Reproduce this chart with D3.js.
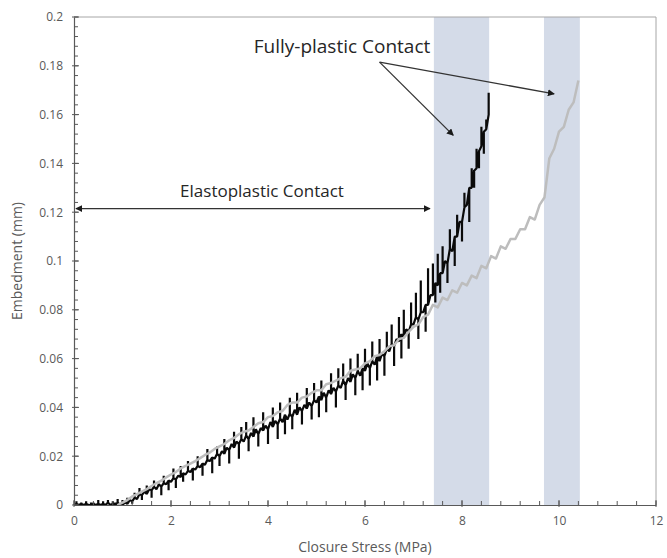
<!DOCTYPE html>
<html>
<head>
<meta charset="utf-8">
<script src="https://cdn.jsdelivr.net/npm/d3@7"></script>
<style>
  html, body { margin: 0; padding: 0; background: #fff; }
  svg { display: block; font-family: "Open Sans", "Noto Sans", sans-serif; }
</style>
</head>
<body>
<svg id="chart" width="667" height="558"></svg>
<script>
// Axis ticks
const xTicks = [0, 2, 4, 6, 8, 10, 12];
const yTicks = [0, 0.02, 0.04, 0.06, 0.08, 0.1, 0.12, 0.14, 0.16, 0.18, 0.2];

// Fully-plastic bands (closure stress, MPa)
const bandStarts = [7.42, 9.69];
const bandEnds = [8.56, 10.43];

// Black specimen, sampled every 0.05 MPa from 0:
// trace level (mm) and the extreme reached by the spike at that sample
const blackStep = 0.05;
const blackEmbed = [
  0, 0.0005, 0, 0.0005, 0, 0.0005, 0, 0, 0.0005, 0,
  0.0005, 0, 0.0005, 0, 0.001, 0, 0.0005, 0, 0.001, 0,
  0, 0.001, 0.0005, 0.002, 0.0015, 0.003, 0.0025, 0.0045, 0.004, 0.0055,
  0.0045, 0.0065, 0.006, 0.0075, 0.0065, 0.0085, 0.0075, 0.009, 0.0085, 0.010,
  0.0095, 0.011, 0.0105, 0.012, 0.0115, 0.013, 0.0125, 0.014, 0.0135, 0.015,
  0.0145, 0.016, 0.0155, 0.017, 0.0165, 0.0185, 0.018, 0.0195, 0.019, 0.021,
  0.020, 0.022, 0.021, 0.0235, 0.0225, 0.025, 0.0235, 0.026, 0.025, 0.027,
  0.026, 0.0285, 0.027, 0.0295, 0.028, 0.031, 0.029, 0.0315, 0.0305, 0.0325,
  0.031, 0.034, 0.032, 0.0345, 0.033, 0.0355, 0.034, 0.037, 0.035, 0.0375,
  0.036, 0.039, 0.037, 0.040, 0.0385, 0.041, 0.0395, 0.042, 0.0405, 0.043,
  0.042, 0.0445, 0.043, 0.046, 0.044, 0.047, 0.0455, 0.048, 0.0465, 0.049,
  0.048, 0.051, 0.049, 0.052, 0.0505, 0.0535, 0.052, 0.055, 0.053, 0.056,
  0.055, 0.058, 0.056, 0.059, 0.0575, 0.061, 0.059, 0.062, 0.061, 0.064,
  0.063, 0.066, 0.065, 0.068, 0.067, 0.070, 0.069, 0.072, 0.071, 0.074,
  0.074, 0.077, 0.076, 0.079, 0.079, 0.082, 0.082, 0.086, 0.086, 0.091,
  0.090, 0.095, 0.095, 0.100, 0.099, 0.105, 0.104, 0.110, 0.110, 0.116,
  0.116, 0.122, 0.123, 0.130, 0.130, 0.137, 0.138, 0.145, 0.147, 0.153,
  0.154, 0.160
];
const blackSpike = [
  0, 0.0015, 0, 0.001, 0, 0.0015, 0, 0.001, 0.001, 0,
  0.002, 0, 0.0015, 0, 0.002, 0, 0.0015, 0.001, 0.0025, 0,
  0.002, 0.001, 0.003, 0.002, 0.0005, 0.005, 0.0025, 0.007, 0.002, 0.0055,
  0.008, 0.0065, 0.003, 0.010, 0.0065, 0.0085, 0.004, 0.012, 0.0085, 0.006,
  0.0095, 0.015, 0.007, 0.012, 0.016, 0.0095, 0.0125, 0.018, 0.0135, 0.010,
  0.0145, 0.020, 0.0155, 0.012, 0.0165, 0.023, 0.018, 0.013, 0.019, 0.024,
  0.016, 0.022, 0.027, 0.0235, 0.017, 0.025, 0.030, 0.026, 0.019, 0.032,
  0.026, 0.034, 0.022, 0.0295, 0.036, 0.031, 0.024, 0.0315, 0.038, 0.0325,
  0.025, 0.034, 0.040, 0.0345, 0.027, 0.042, 0.034, 0.029, 0.035, 0.044,
  0.031, 0.039, 0.046, 0.040, 0.033, 0.041, 0.048, 0.042, 0.035, 0.050,
  0.042, 0.036, 0.051, 0.046, 0.038, 0.047, 0.054, 0.048, 0.040, 0.056,
  0.048, 0.058, 0.043, 0.052, 0.060, 0.0535, 0.045, 0.062, 0.053, 0.047,
  0.064, 0.058, 0.049, 0.067, 0.0575, 0.051, 0.068, 0.062, 0.053, 0.071,
  0.063, 0.074, 0.057, 0.068, 0.077, 0.060, 0.080, 0.072, 0.064, 0.083,
  0.074, 0.087, 0.068, 0.092, 0.079, 0.071, 0.097, 0.086, 0.099, 0.083,
  0.103, 0.087, 0.106, 0.100, 0.091, 0.113, 0.104, 0.098, 0.119, 0.116,
  0.108, 0.128, 0.123, 0.116, 0.138, 0.130, 0.146, 0.138, 0.155, 0.144,
  0.158, 0.169
];

// Grey specimen: embedment (mm) sampled every 0.1 MPa from 0.9
const greyStart = 0.9;
const greyStep = 0.1;
const greyEmbed = [
  0.000, 0.001, 0.002, 0.0035, 0.0045, 0.0055, 0.0065, 0.0078, 0.009, 0.010,
  0.0113, 0.0125, 0.0135, 0.015, 0.016, 0.017, 0.018, 0.0192, 0.0205, 0.0215,
  0.023, 0.024, 0.025, 0.0265, 0.0275, 0.029, 0.030, 0.0305, 0.032, 0.0335,
  0.034, 0.036, 0.0365, 0.038, 0.0385, 0.041, 0.042, 0.042, 0.044, 0.0445,
  0.046, 0.047, 0.047, 0.0495, 0.050, 0.051, 0.052, 0.0525, 0.055, 0.0555,
  0.056, 0.058, 0.059, 0.061, 0.0615, 0.063, 0.065, 0.0655, 0.068, 0.0685,
  0.071, 0.073, 0.074, 0.077, 0.078, 0.082, 0.081, 0.085, 0.084, 0.088,
  0.087, 0.091, 0.090, 0.094, 0.093, 0.098, 0.097, 0.102, 0.101, 0.106,
  0.105, 0.109, 0.109, 0.113, 0.113, 0.118, 0.117, 0.123, 0.126, 0.142,
  0.146, 0.153, 0.155, 0.162, 0.165, 0.174
];

const svg = d3.select("#chart");
const margin = { left: 74, right: 11, top: 17, bottom: 53 };
const W = 667, H = 558;

const x = d3.scaleLinear().domain([0, 12]).range([margin.left, W - margin.right]);
const y = d3.scaleLinear().domain([0, 0.2]).range([H - margin.bottom, margin.top]);

const axisColor = "#595959";
const labelColor = "#595959";

// shaded fully-plastic regions
svg.append("g").selectAll("rect")
  .data(bandStarts.map((s, i) => [s, bandEnds[i]]))
  .join("rect")
  .attr("x", d => x(d[0]))
  .attr("width", d => x(d[1]) - x(d[0]))
  .attr("y", y(0.2))
  .attr("height", y(0) - y(0.2))
  .attr("fill", "#d4dbe8");

// frame (top and right)
svg.append("path")
  .attr("d", `M${x(0)},${y(0.2)}H${x(12)}V${y(0)}`)
  .attr("fill", "none")
  .attr("stroke", "#a6a6a6")
  .attr("stroke-width", 1);

// black trace: each sample goes out to its spike extreme and back
const blackPts = blackEmbed.flatMap((v, i) => {
  const s = i * blackStep;
  return [[s, v], [s, blackSpike[i]], [s, v]];
});
const greyPts = greyEmbed.map((v, i) => [greyStart + i * greyStep, v]);
const line = d3.line().x(d => x(d[0])).y(d => y(d[1]));

svg.append("path")
  .datum(blackPts)
  .attr("d", line)
  .attr("fill", "none")
  .attr("stroke", "#0a0a0a")
  .attr("stroke-width", 2.2)
  .attr("stroke-linejoin", "bevel");

svg.append("path")
  .datum(greyPts)
  .attr("d", line)
  .attr("fill", "none")
  .attr("stroke", "#bdbdbd")
  .attr("stroke-width", 2.5)
  .attr("stroke-linejoin", "round");

// axes
const xMinor = d3.range(0, 12.001, 0.4);
const yMinor = d3.range(0, 0.2001, 0.004);

const gx = svg.append("g").attr("transform", `translate(0,${y(0)})`);
gx.call(d3.axisBottom(x).tickValues(xTicks).tickSize(0).tickPadding(11).tickFormat(d3.format("")));
gx.select(".domain").attr("stroke", axisColor).attr("stroke-width", 1.2);
gx.selectAll("text").attr("fill", labelColor).attr("font-size", 12).attr("font-family", "Open Sans, sans-serif");
gx.selectAll(".minor").data(xMinor).join("line").attr("class", "minor")
  .attr("x1", d => x(d)).attr("x2", d => x(d)).attr("y1", 0).attr("y2", -4)
  .attr("stroke", axisColor);
gx.selectAll(".major").data(xTicks).join("line").attr("class", "major")
  .attr("x1", d => x(d)).attr("x2", d => x(d)).attr("y1", 2).attr("y2", -5)
  .attr("stroke", axisColor);

const gy = svg.append("g").attr("transform", `translate(${x(0)},0)`);
gy.call(d3.axisLeft(y).tickValues(yTicks).tickSize(0).tickPadding(11).tickFormat(d => d === 0 ? "0" : d3.format("")(+d.toFixed(2))));
gy.select(".domain").attr("stroke", axisColor).attr("stroke-width", 1.2);
gy.selectAll("text").attr("fill", labelColor).attr("font-size", 12).attr("font-family", "Open Sans, sans-serif");
gy.selectAll(".minor").data(yMinor).join("line").attr("class", "minor")
  .attr("y1", d => y(d)).attr("y2", d => y(d)).attr("x1", 0).attr("x2", 4)
  .attr("stroke", axisColor);
gy.selectAll(".major").data(yTicks).join("line").attr("class", "major")
  .attr("y1", d => y(d)).attr("y2", d => y(d)).attr("x1", -2).attr("x2", 5)
  .attr("stroke", axisColor);

// axis titles
svg.append("text")
  .attr("x", (x(0) + x(12)) / 2).attr("y", 552)
  .attr("text-anchor", "middle").attr("font-size", 14).attr("fill", labelColor)
  .text("Closure Stress (MPa)");
svg.append("text")
  .attr("transform", `translate(22,${(y(0) + y(0.2)) / 2}) rotate(-90)`)
  .attr("text-anchor", "middle").attr("font-size", 14).attr("fill", labelColor)
  .text("Embedment (mm)");

// annotations
const defs = svg.append("defs");
defs.append("marker").attr("id", "head")
  .attr("viewBox", "0 0 10 10").attr("refX", 9).attr("refY", 5)
  .attr("markerWidth", 7).attr("markerHeight", 7).attr("orient", "auto-start-reverse")
  .attr("markerUnits", "userSpaceOnUse")
  .append("path").attr("d", "M0,0L10,5L0,10z").attr("fill", "#1a1a1a");

const annColor = "#333";
svg.append("line")
  .attr("x1", x(0.04)).attr("x2", x(7.34))
  .attr("y1", y(0.1215)).attr("y2", y(0.1215))
  .attr("stroke", annColor).attr("stroke-width", 1.3)
  .attr("marker-start", "url(#head)").attr("marker-end", "url(#head)");
svg.append("text")
  .attr("x", 262).attr("y", 197).attr("text-anchor", "middle")
  .attr("font-size", 17).attr("fill", "#262626")
  .text("Elastoplastic Contact");

const fpOrigin = [6.3, 0.1815];
const fpTargets = [[7.82, 0.1515], [9.9, 0.1685]];
fpTargets.forEach(t => {
  svg.append("line")
    .attr("x1", x(fpOrigin[0])).attr("y1", y(fpOrigin[1]))
    .attr("x2", x(t[0])).attr("y2", y(t[1]))
    .attr("stroke", annColor).attr("stroke-width", 1.3)
    .attr("marker-end", "url(#head)");
});
svg.append("text")
  .attr("x", 342).attr("y", 53).attr("text-anchor", "middle")
  .attr("font-size", 19).attr("fill", "#262626")
  .text("Fully-plastic Contact");
</script>
</body>
</html>
